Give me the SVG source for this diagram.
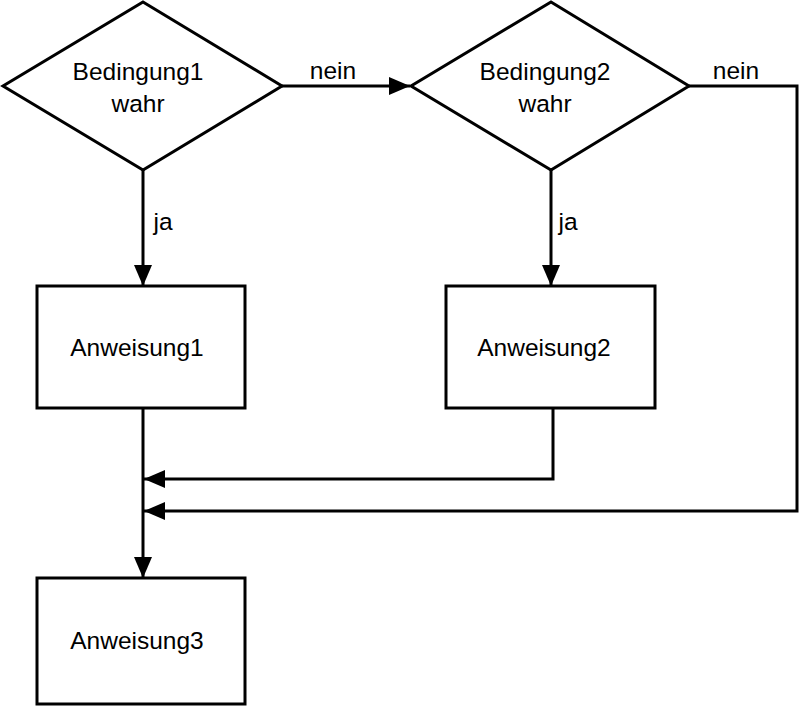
<svg xmlns="http://www.w3.org/2000/svg" width="800" height="706" viewBox="0 0 800 706">
<style>
.shape{fill:#fff;stroke:#000;stroke-width:3;stroke-linejoin:miter}
.conn{fill:none;stroke:#000;stroke-width:3;stroke-linejoin:miter}
text{font-family:"Liberation Sans",Arial,sans-serif;font-size:24.5px;fill:#000}
.c{text-anchor:middle}
</style>
<defs>
<marker id="ah" markerUnits="userSpaceOnUse" markerWidth="22" markerHeight="18" refX="21" refY="9" orient="auto">
<path d="M0,0 L21,9 L0,18 Z" fill="#000"/>
</marker>
</defs>
<rect width="800" height="706" fill="#fff"/>
<g id="connectors">
<path class="conn" d="M282,86 H410" marker-end="url(#ah)"/>
<path class="conn" d="M143,170 V286" marker-end="url(#ah)"/>
<path class="conn" d="M551,170 V286" marker-end="url(#ah)"/>
<path class="conn" d="M143,408 V578" marker-end="url(#ah)"/>
<path class="conn" d="M553,408 V479 H144" marker-end="url(#ah)"/>
<path class="conn" d="M689,86 H797 V511 H144" marker-end="url(#ah)"/>
<text x="333" y="79" class="c">nein</text>
<text x="736" y="79" class="c">nein</text>
<text x="163" y="230" class="c">ja</text>
<text x="568" y="230" class="c">ja</text>
</g>
<g id="bedingung1">
<polygon class="shape" points="143,2 282,86 143,170 3,86"/>
<text x="138" y="80" class="c">Bedingung1</text>
<text x="138" y="112" class="c">wahr</text>
</g>
<g id="bedingung2">
<polygon class="shape" points="551,2 689,86 551,170 411,86"/>
<text x="545" y="80" class="c">Bedingung2</text>
<text x="545" y="112" class="c">wahr</text>
</g>
<g id="anweisung1">
<rect class="shape" x="37" y="286" width="208" height="122"/>
<text x="137" y="356" class="c">Anweisung1</text>
</g>
<g id="anweisung2">
<rect class="shape" x="446" y="286" width="209" height="122"/>
<text x="544" y="356" class="c">Anweisung2</text>
</g>
<g id="anweisung3">
<rect class="shape" x="37" y="578" width="208" height="126"/>
<text x="137" y="649" class="c">Anweisung3</text>
</g>
</svg>
